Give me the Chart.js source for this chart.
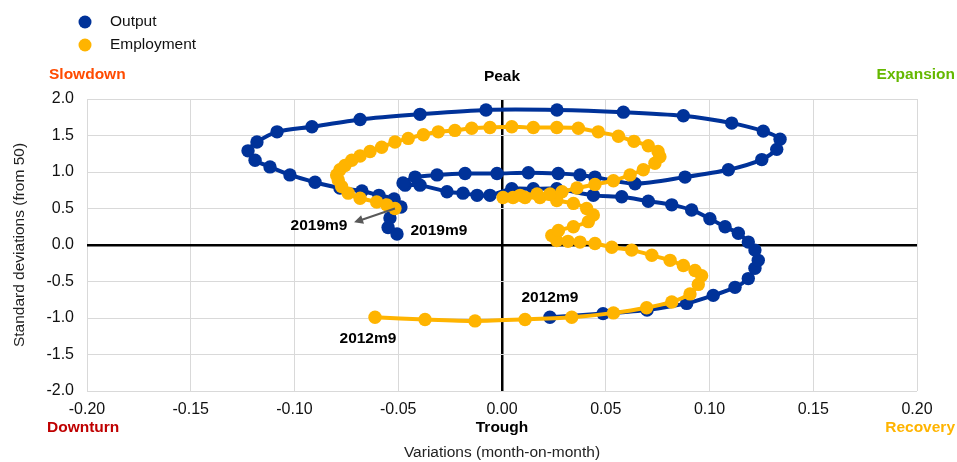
<!DOCTYPE html>
<html>
<head>
<meta charset="utf-8">
<script src="https://cdn.jsdelivr.net/npm/chart.js@4.4.1/dist/chart.umd.min.js"></script>
<style>
  html, body { margin: 0; padding: 0; background: #fff; }
  #wrap { width: 957px; height: 462px; }
</style>
</head>
<body>
<div id="wrap"><canvas id="cycle"></canvas></div>
<script>
// Output: 2012m9 -> 2019m9 (month-on-month variation, std dev from 50)
const outputX = [0.0231, 0.0487, 0.0699, 0.0890, 0.1018, 0.1123, 0.1187, 0.1219, 0.1235, 0.1219,
  0.1187, 0.1139, 0.1075, 0.1002, 0.0914, 0.0818, 0.0705, 0.0577, 0.0440, 0.0264,
  0.0151, 0.0047, -0.0058, -0.0120, -0.0188, -0.0265, -0.0395, -0.0467, -0.0477, -0.0419,
  -0.0313, -0.0178, -0.0024, 0.0127, 0.0271, 0.0376, 0.0448, 0.0641, 0.0882, 0.1091,
  0.1252, 0.1324, 0.1340, 0.1259, 0.1107, 0.0874, 0.0585, 0.0265, -0.0077, -0.0395,
  -0.0684, -0.0916, -0.1084, -0.1181, -0.1224, -0.1190, -0.1118, -0.1022, -0.0901, -0.0781,
  -0.0675, -0.0593, -0.0520, -0.0487, -0.0540, -0.0549, -0.0506]
const outputY = [-0.99, -0.94, -0.89, -0.80, -0.69, -0.58, -0.46, -0.32, -0.21, -0.07,
  0.04, 0.16, 0.25, 0.36, 0.48, 0.55, 0.60, 0.66, 0.68, 0.77,
  0.77, 0.77, 0.68, 0.68, 0.71, 0.73, 0.82, 0.82, 0.85, 0.93,
  0.96, 0.98, 0.98, 0.99, 0.98, 0.96, 0.93, 0.84, 0.93, 1.03,
  1.17, 1.31, 1.45, 1.56, 1.67, 1.77, 1.82, 1.85, 1.85, 1.79,
  1.72, 1.62, 1.55, 1.41, 1.29, 1.16, 1.07, 0.96, 0.86, 0.78,
  0.74, 0.68, 0.63, 0.52, 0.37, 0.24, 0.15]

// Employment: 2012m9 -> 2019m9
const employmentX = [-0.0612, -0.0371, -0.0130, 0.0111, 0.0336, 0.0537, 0.0697, 0.0818, 0.0906, 0.0946,
  0.0962, 0.0930, 0.0874, 0.0810, 0.0722, 0.0625, 0.0529, 0.0448, 0.0376, 0.0318,
  0.0264, 0.0240, 0.0272, 0.0344, 0.0416, 0.0440, 0.0408, 0.0344, 0.0264, 0.0183,
  0.0111, 0.0053, 0.0005, 0.0087, 0.0169, 0.0231, 0.0289, 0.0361, 0.0448, 0.0537,
  0.0617, 0.0681, 0.0737, 0.0761, 0.0752, 0.0705, 0.0636, 0.0561, 0.0464, 0.0368,
  0.0264, 0.0151, 0.0047, -0.0058, -0.0146, -0.0227, -0.0307, -0.0379, -0.0452, -0.0516,
  -0.0580, -0.0636, -0.0684, -0.0724, -0.0757, -0.0781, -0.0797, -0.0789, -0.0773, -0.0741,
  -0.0684, -0.0604, -0.0556, -0.0516]
const employmentY = [-0.99, -1.02, -1.04, -1.02, -0.99, -0.93, -0.86, -0.78, -0.67, -0.54,
  -0.42, -0.35, -0.28, -0.21, -0.14, -0.07, -0.03, 0.02, 0.04, 0.05,
  0.06, 0.13, 0.20, 0.25, 0.32, 0.41, 0.50, 0.57, 0.61, 0.65,
  0.65, 0.65, 0.65, 0.68, 0.70, 0.70, 0.73, 0.78, 0.83, 0.88,
  0.96, 1.03, 1.12, 1.21, 1.28, 1.36, 1.42, 1.49, 1.55, 1.60,
  1.61, 1.61, 1.62, 1.61, 1.60, 1.57, 1.55, 1.51, 1.46, 1.41,
  1.34, 1.28, 1.22, 1.16, 1.09, 1.03, 0.96, 0.89, 0.80, 0.71,
  0.64, 0.59, 0.55, 0.50]

const seriesNames = ["Output", "Employment"]
const seriesColors = ["#003299", "#FFB400"]

const xMin = -0.20, xMax = 0.20, xStep = 0.05
const yMin = -2.0, yMax = 2.0, yStep = 0.5

// point labels, placed in data space
const pointLabels = [
  { text: "2019m9", x: -0.0882, y: 0.27 },
  { text: "2019m9", x: -0.0304, y: 0.19 },
  { text: "2012m9", x: 0.0231, y: -0.72 },
  { text: "2012m9", x: -0.0646, y: -1.29 }
]
const arrowTip = { x: -0.0713, y: 0.31 }

const FONT = '"Liberation Sans", Arial, sans-serif'

function toPoints(xs, ys) {
  return xs.map((x, i) => ({ x: x, y: ys[i] }))
}

const decorations = {
  id: "decorations",
  afterDraw(chart) {
    const ctx = chart.ctx
    const xs = chart.scales.x
    const ys = chart.scales.y
    const area = chart.chartArea
    ctx.save()

    // legend
    ctx.font = "15.5px " + FONT
    ctx.textBaseline = "middle"
    ctx.textAlign = "left"
    seriesNames.forEach((name, i) => {
      const cy = 22 + i * 23
      ctx.fillStyle = seriesColors[i]
      ctx.beginPath()
      ctx.arc(85, cy, 6.5, 0, Math.PI * 2)
      ctx.fill()
      ctx.fillStyle = "#111"
      ctx.fillText(name, 110, cy)
    })

    // quadrant labels
    ctx.font = "bold 15.5px " + FONT
    ctx.fillStyle = "#FF4B00"
    ctx.fillText("Slowdown", 49, 75)
    ctx.fillStyle = "#BF0000"
    ctx.fillText("Downturn", 47, 428)
    ctx.textAlign = "right"
    ctx.fillStyle = "#65B800"
    ctx.fillText("Expansion", 955, 75)
    ctx.fillStyle = "#FFB400"
    ctx.fillText("Recovery", 955, 428)
    ctx.textAlign = "center"
    ctx.fillStyle = "#000"
    ctx.fillText("Peak", xs.getPixelForValue(0), 77)
    ctx.fillText("Trough", xs.getPixelForValue(0), 428)

    // axis titles
    ctx.font = "15.5px " + FONT
    ctx.fillStyle = "#222"
    ctx.fillText("Variations (month-on-month)", xs.getPixelForValue(0), 453)
    ctx.save()
    ctx.translate(20, (area.top + area.bottom) / 2)
    ctx.rotate(-Math.PI / 2)
    ctx.fillText("Standard deviations (from 50)", 0, 0)
    ctx.restore()

    // arrow from last employment point to its label
    const n = employmentX.length - 1
    const ax = xs.getPixelForValue(employmentX[n]), ay = ys.getPixelForValue(employmentY[n])
    const bx = xs.getPixelForValue(arrowTip.x), by = ys.getPixelForValue(arrowTip.y)
    const ang = Math.atan2(by - ay, bx - ax)
    ctx.strokeStyle = "#595959"
    ctx.fillStyle = "#595959"
    ctx.lineWidth = 2
    ctx.beginPath()
    ctx.moveTo(ax, ay)
    ctx.lineTo(bx - 6 * Math.cos(ang), by - 6 * Math.sin(ang))
    ctx.stroke()
    ctx.beginPath()
    ctx.moveTo(bx, by)
    ctx.lineTo(bx - 9 * Math.cos(ang) + 4.5 * Math.sin(ang), by - 9 * Math.sin(ang) - 4.5 * Math.cos(ang))
    ctx.lineTo(bx - 9 * Math.cos(ang) - 4.5 * Math.sin(ang), by - 9 * Math.sin(ang) + 4.5 * Math.cos(ang))
    ctx.closePath()
    ctx.fill()

    // point labels
    ctx.font = "bold 15.5px " + FONT
    ctx.fillStyle = "#000"
    ctx.textAlign = "center"
    pointLabels.forEach(l => {
      ctx.fillText(l.text, xs.getPixelForValue(l.x), ys.getPixelForValue(l.y))
    })
    ctx.restore()
  }
}

const gridColor = ctx => (Math.abs(ctx.tick.value) < 1e-9 ? "#000" : "#d9d9d9")
const gridWidth = ctx => (Math.abs(ctx.tick.value) < 1e-9 ? 2.5 : 1)

new Chart(document.getElementById("cycle"), {
  type: "scatter",
  data: {
    datasets: [
      {
        label: seriesNames[0],
        data: toPoints(outputX, outputY),
        showLine: true,
        borderColor: seriesColors[0],
        backgroundColor: seriesColors[0],
        borderWidth: 4,
        pointRadius: 6.7,
        pointBorderWidth: 0,
        tension: 0.25,
        order: 2
      },
      {
        label: seriesNames[1],
        data: toPoints(employmentX, employmentY),
        showLine: true,
        borderColor: seriesColors[1],
        backgroundColor: seriesColors[1],
        borderWidth: 4,
        pointRadius: 6.7,
        pointBorderWidth: 0,
        tension: 0.25,
        order: 1
      }
    ]
  },
  options: {
    responsive: true,
    maintainAspectRatio: false,
    animation: false,
    layout: { padding: { top: 99, right: 40, bottom: 0, left: 0 } },
    scales: {
      x: {
        type: "linear",
        min: xMin,
        max: xMax,
        afterFit: s => { s.height = 71 },
        border: { display: false },
        grid: { color: gridColor, lineWidth: gridWidth, drawTicks: false },
        ticks: {
          stepSize: xStep,
          padding: 9,
          color: "#111",
          font: { size: 16, family: FONT },
          callback: v => v.toFixed(2)
        }
      },
      y: {
        type: "linear",
        min: yMin,
        max: yMax,
        afterFit: s => { s.width = 87 },
        border: { display: false },
        grid: { color: gridColor, lineWidth: gridWidth, drawTicks: false },
        ticks: {
          stepSize: yStep,
          padding: 13,
          color: "#111",
          font: { size: 16, family: FONT },
          callback: v => v.toFixed(1)
        }
      }
    },
    plugins: {
      legend: { display: false },
      tooltip: { enabled: false }
    }
  },
  plugins: [decorations]
})
</script>
</body>
</html>
